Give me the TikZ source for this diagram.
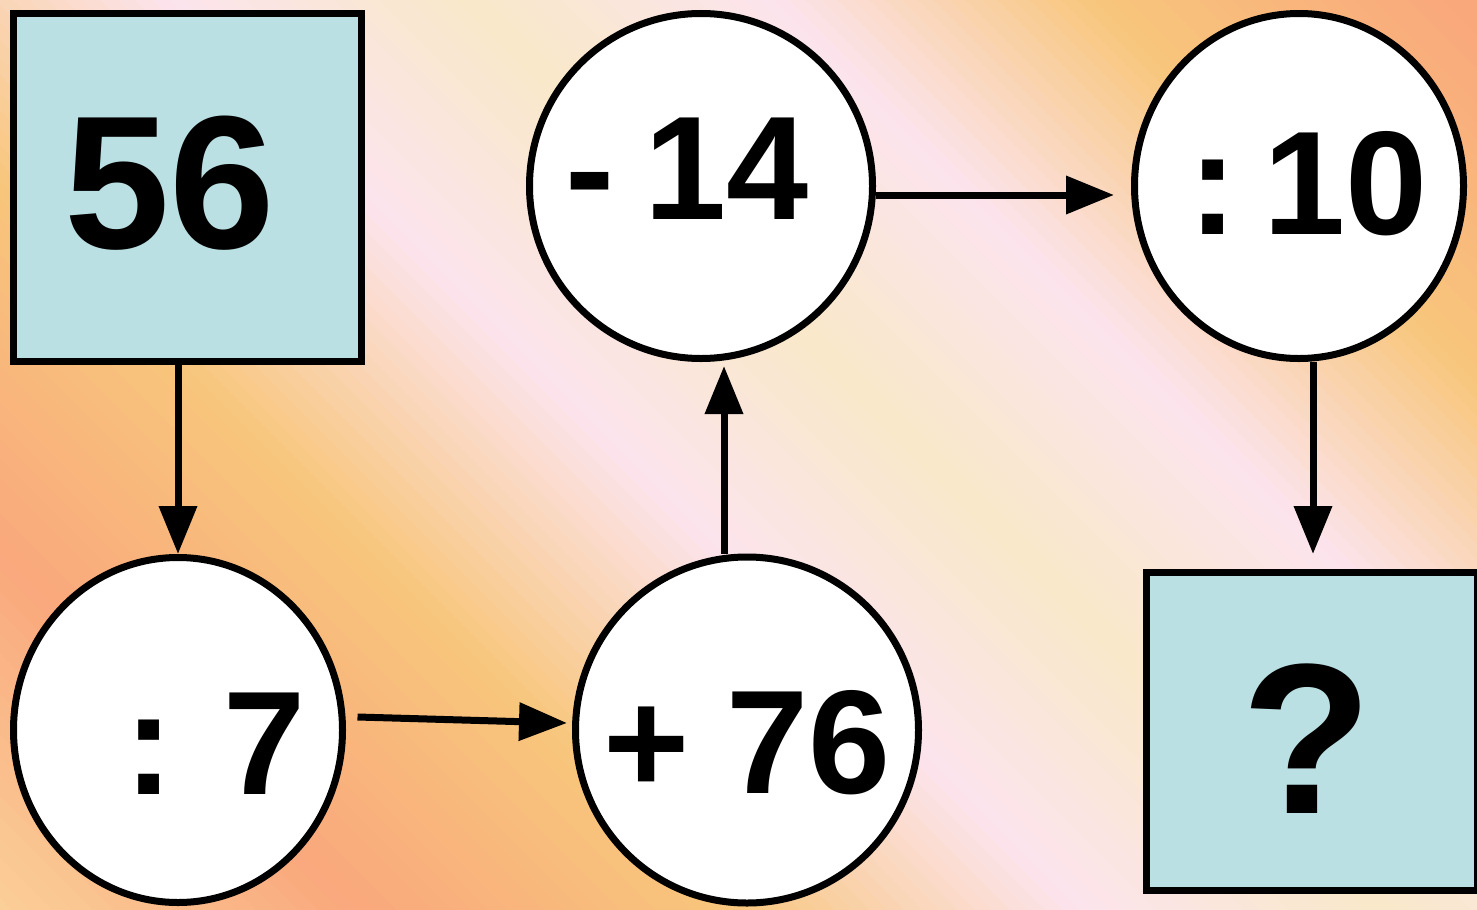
\documentclass[tikz,border=0pt]{standalone}
\usepackage{fontspec}
\setmainfont{Liberation Sans}
\usetikzlibrary{arrows.meta,shapes.geometric,calc}

\definecolor{lachs}{RGB}{249,168,124}
\definecolor{gelborange}{RGB}{248,198,124}
\definecolor{rosa}{RGB}{252,228,238}
\definecolor{creme}{RGB}{249,232,200}
\definecolor{hellgelb}{RGB}{251,212,156}
\definecolor{kastenblau}{RGB}{187,224,227}

\tikzset{line/.style={draw, line width=1.4mm, -{Triangle[length=9.6mm, width=7.4mm]}}}

\begin{document}
\begin{tikzpicture}[x=0.2mm, y=-0.2mm]
\tikzstyle{kasten} = [rectangle, draw, fill=kastenblau, line width=1.4mm, inner sep=0pt]
\tikzstyle{kreis} = [ellipse, draw, fill=white, line width=1.4mm, inner sep=0pt]
\tikzstyle{zahl} = [inner sep=0pt, font=\bfseries\fontsize{84pt}{84pt}\selectfont]

\useasboundingbox (0,0) rectangle (1477,909);
\clip (0,0) rectangle (1477,909);

% hintergrund
\foreach \ua/\ub/\ca/\cb in {-960/-550/hellgelb/lachs, -550/-180/lachs/gelborange, -180/170/gelborange/rosa, 170/470/rosa/creme, 470/773/creme/rosa, 773/1093/rosa/gelborange, 1093/1443/gelborange/lachs, 1443/1520/lachs/lachs}{
  \foreach \k in {0,...,19}{
    \pgfmathsetmacro{\a}{\ua+(\ub-\ua)*\k/20}
    \pgfmathsetmacro{\b}{\ua+(\ub-\ua)*(\k+1)/20+1}
    \pgfmathsetmacro{\p}{100*(\k+0.5)/20}
    \fill[\cb!\p!\ca] (\a-20,-20) -- (\b-20,-20) -- (\b+930,930) -- (\a+930,930) -- cycle;
  }
}

% kaesten
\node [kasten, minimum size=69.6mm](n56) at (187.5,187.5){};
\node [kasten, minimum width=66.3mm, minimum height=63.6mm](nq) at (1312,731.5){};

% kreise
\node [kreis, minimum width=65.8mm, minimum height=69mm](c7) at (178,730){};
\node [kreis, minimum width=68.6mm, minimum height=69.2mm](c76) at (747,730){};
\node [kreis, minimum width=68.6mm, minimum height=69mm](c14) at (701,186){};
\node [kreis, minimum width=65.8mm, minimum height=69mm](c10) at (1299,186){};

% zahlen
\node [zahl, font=\bfseries\fontsize{108pt}{108pt}\selectfont](t56) at (170,183){56};
\node [zahl](t7) at (215,744){:\hspace{0.34em}7};
\node [zahl](t76) at (747,743){+\hspace{0.25em}76};
\node [zahl](t14) at (687,169){-\hspace{0.2em}14};
\node [zahl](t10) at (1308,184){:\hspace{0.18em}10};
\node [zahl, font=\bfseries\fontsize{122pt}{122pt}\selectfont](tq) at (1307,739){?};

% pfeile
\draw [line] (n56.south -| c7.north) -- (c7.north);
\draw [line] ($(c7.east)+(11.5,-13)$) -- ($(c76.west)+(-5,-7)$);
\draw [line] ($(c76.north)+(-23,0)$) -- ($(c14.south)+(23,4)$);
\draw [line] ($(c14.east)+(0,9)$) -- ($(c10.west)+(-17,9)$);
\draw [line] ($(c10.south)+(14,0)$) -- ($(nq.north)+(1,-15)$);

\end{tikzpicture}
\end{document}
